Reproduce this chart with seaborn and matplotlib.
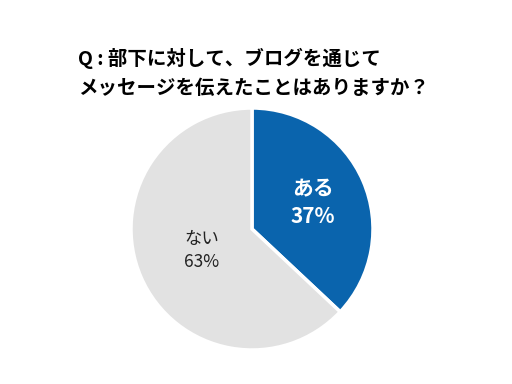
import numpy as np
import matplotlib.pyplot as plt
import seaborn as sns

# data
labels = ["ある", "ない"]
values = [37, 63]
colors = ["#0a64ad", "#e2e2e2"]

sns.set_theme(style="white")
plt.rcParams["font.family"] = ["Noto Sans CJK JP", "DejaVu Sans"]

fig = plt.figure(figsize=(5.12, 3.84), dpi=100)
fig.patch.set_facecolor("white")

# title, two lines, left aligned
fig.text(78 / 512, 1 - 58 / 384, "Q : 部下に対して、ブログを通じて",
         fontsize=14, fontweight="bold", color="black", va="center", ha="left")
fig.text(78 / 512, 1 - 88 / 384, "メッセージを伝えたことはありますか？",
         fontsize=14, fontweight="bold", color="black", va="center", ha="left")

ax = fig.add_axes([131 / 512, 34 / 384, 242 / 512, 242 / 384])
wedges, _ = ax.pie(values, colors=colors, startangle=90, counterclock=False,
                   wedgeprops=dict(edgecolor="white", linewidth=2.5))
ax.set_xlim(-1, 1)
ax.set_ylim(-1, 1)
ax.set_aspect("equal")
ax.axis("off")

# slice labels at wedge mid angles
styles = [dict(color="white", fontweight="bold", fontsize=15, r=0.55),
          dict(color="#222222", fontweight="normal", fontsize=12.5, r=0.45)]
for w, lab, val, st in zip(wedges, labels, values, styles):
    ang = np.deg2rad((w.theta1 + w.theta2) / 2)
    x, y = st["r"] * np.cos(ang), st["r"] * np.sin(ang)
    ax.text(x, y, f"{lab}\n{val}%", ha="center", va="center",
            color=st["color"], fontweight=st["fontweight"],
            fontsize=st["fontsize"], linespacing=1.4)

fig.savefig("out.png", dpi=100)
